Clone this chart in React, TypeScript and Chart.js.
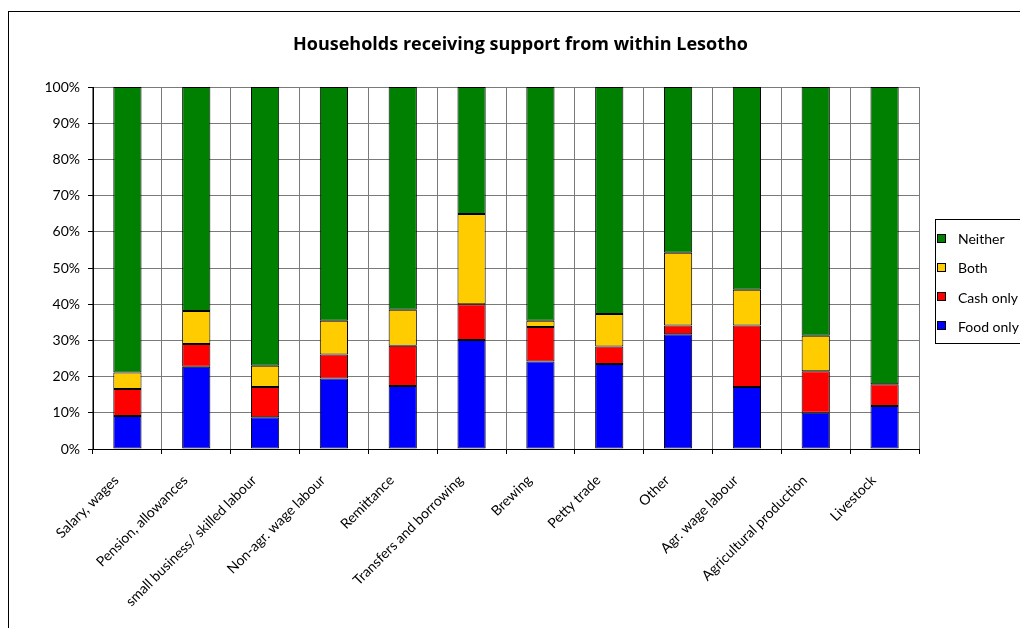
import React, { useEffect, useRef } from "react";
import { Chart, registerables } from "chart.js";
Chart.register(...registerables);

const categories = [
  "Salary, wages",
  "Pension, allowances",
  "small business/ skilled labour",
  "Non-agr. wage labour",
  "Remittance",
  "Transfers and borrowing",
  "Brewing",
  "Petty trade",
  "Other",
  "Agr. wage labour",
  "Agricultural production",
  "Livestock",
];
const foodOnly = [9.1, 22.7, 8.8, 19.5, 17.4, 30.1, 24.2, 23.5, 31.7, 17.1, 10.0, 11.9];
const cashOnly = [7.5, 6.3, 8.3, 6.6, 11.1, 9.9, 9.5, 4.8, 2.4, 17.0, 11.5, 6.0];
const both = [4.5, 9.1, 5.9, 9.3, 10.0, 24.9, 1.7, 9.0, 20.1, 9.9, 9.8, 0];
const neither = [78.9, 61.9, 77.0, 64.6, 61.5, 35.1, 64.6, 62.7, 45.8, 56.0, 68.7, 82.1];
const seriesNames = ["Food only", "Cash only", "Both", "Neither"];
const seriesColors = ["#0000FF", "#FF0000", "#FFCC00", "#008000"];
const title = "Households receiving support from within Lesotho";

const FONT = "Lato, 'Open Sans', sans-serif";

export default function App() {
  const ref = useRef<HTMLCanvasElement | null>(null);
  useEffect(() => {
    if (!ref.current) return;
    const values = [foodOnly, cashOnly, both, neither];
    const extras = {
      id: "extras",
      afterDraw(chart: any) {
        const ctx = chart.ctx;
        ctx.save();
        // title, fitted to the reference width
        ctx.fillStyle = "#000";
        ctx.font = `bold 17px 'Open Sans', ${FONT}`;
        ctx.textAlign = "center";
        ctx.textBaseline = "middle";
        const w = ctx.measureText(title).width;
        const sx = 455 / w;
        ctx.save();
        ctx.translate(520.5, 45);
        ctx.scale(sx, 1);
        ctx.fillText(title, 0, 0);
        ctx.restore();
        // legend box
        ctx.strokeStyle = "#000";
        ctx.lineWidth = 1;
        ctx.strokeRect(935.5, 219.5, 200, 124);
        ctx.font = `14px ${FONT}`;
        ctx.textAlign = "left";
        const rows = [3, 2, 1, 0];
        rows.forEach((si, i) => {
          const cy = 238.5 + i * 29.3;
          ctx.fillStyle = seriesColors[si];
          ctx.fillRect(937.5, Math.round(cy) - 4.5, 8, 8);
          ctx.strokeStyle = "#000";
          ctx.strokeRect(937.5, Math.round(cy) - 4.5, 8, 8);
          ctx.fillStyle = "#000";
          ctx.fillText(seriesNames[si], 958, cy + 1);
        });
        ctx.restore();
      },
    };
    const chart = new Chart(ref.current, {
      type: "bar",
      data: {
        labels: categories,
        datasets: seriesNames.map((n, i) => ({
          label: n,
          data: values[i],
          backgroundColor: seriesColors[i],
          borderColor: "#000",
          borderWidth: 1,
          borderSkipped: false,
          barPercentage: 0.41,
          categoryPercentage: 1,
        })),
      },
      options: {
        animation: false,
        responsive: false,
        maintainAspectRatio: false,
        layout: { padding: { top: 87, right: 101, left: 0, bottom: 0 } },
        plugins: {
          legend: { display: false },
          title: { display: false },
          tooltip: { enabled: false },
        },
        scales: {
          x: {
            stacked: true,
            grid: {
              offset: true,
              color: "#7a7a7a",
              tickColor: "#000",
              tickLength: 5,
              lineWidth: 1,
            },
            border: { color: "#000", width: 1 },
            ticks: {
              autoSkip: false,
              minRotation: 45,
              maxRotation: 45,
              padding: 18,
              labelOffset: -11,
              color: "#000",
              font: { family: FONT, size: 14 },
            },
            afterFit(scale: any) {
              scale.height = 179;
            },
          },
          y: {
            stacked: true,
            min: 0,
            max: 100,
            grid: { color: "#7a7a7a", tickColor: "#000", tickLength: 5, lineWidth: 1 },
            border: { color: "#000", width: 1 },
            ticks: {
              stepSize: 10,
              padding: 8,
              color: "#000",
              font: { family: FONT, size: 14 },
              callback: (v: any) => v + "%",
            },
            afterFit(scale: any) {
              scale.width = 93;
            },
          },
        },
      },
      plugins: [extras],
    });
    return () => chart.destroy();
  }, []);
  return (
    <>
      <div
        style={{
          position: "fixed",
          left: 8,
          top: 11,
          width: 2000,
          height: 2000,
          borderLeft: "1px solid #000",
          borderTop: "1px solid #000",
        }}
      />
      <canvas
        ref={ref}
        width={1020}
        height={628}
        style={{ position: "fixed", left: 0, top: 0, width: 1020, height: 628 }}
      />
    </>
  );
}
